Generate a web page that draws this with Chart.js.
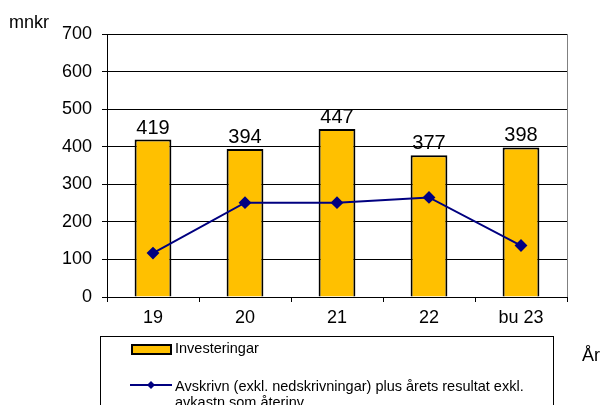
<!DOCTYPE html>
<html>
<head>
<meta charset="utf-8">
<script src="https://cdn.jsdelivr.net/npm/chart.js@4"></script>
<style>
  body { margin: 0; background: #fff; overflow: hidden; font-family: "Liberation Sans", Arial, sans-serif; }
  #wrap { position: relative; width: 601px; height: 405px; }
  canvas { position: absolute; left: 0; top: 0; }
  .lbl { position: absolute; font-size: 18px; color: #000; line-height: 20px; }
  #legend { position: absolute; left: 100px; top: 336px; width: 452px; height: 90px; border: 1px solid #000; background: #fff; font-size: 14.5px; }
  .item { position: absolute; left: 74px; white-space: nowrap; line-height: 16px; }
</style>
</head>
<body>
<div id="wrap">
  <canvas id="chart" width="601" height="405"></canvas>
  <div class="lbl" style="left:9px;top:12px;">mnkr</div>
  <div class="lbl" style="left:582px;top:345px;">År</div>
  <div id="legend">
    <div style="position:absolute;left:30px;top:7px;width:37px;height:7px;background:#FFC000;border:2px solid #000;"></div>
    <div class="item" style="top:3px;">Investeringar</div>
    <svg style="position:absolute;left:29px;top:43px;" width="42" height="10">
      <line x1="0" y1="5" x2="42" y2="5" stroke="#000080" stroke-width="2"/>
      <polygon points="21,1 25,5 21,9 17,5" fill="#000080"/>
    </svg>
    <div class="item" style="top:41px;">Avskrivn (exkl. nedskrivningar) plus årets resultat exkl.<br>avkastn som återinv</div>
  </div>
</div>
<script>
'use strict';

let years = ['19', '20', '21', '22', 'bu 23'];
let investeringar = [419, 394, 447, 377, 398];
let avskrivn = [117, 251, 251, 265, 137];
let yTicks = [0, 100, 200, 300, 400, 500, 600, 700];

let canvasElem = document.getElementById('chart');

const barLabels = {
  id: 'barLabels',
  afterDatasetsDraw(chart) {
    const ctx = chart.ctx;
    const meta = chart.getDatasetMeta(0);
    ctx.save();
    ctx.font = '20px "Liberation Sans", Arial, sans-serif';
    ctx.fillStyle = '#000';
    ctx.textAlign = 'center';
    ctx.textBaseline = 'alphabetic';
    meta.data.forEach(function (bar, i) {
      ctx.fillText(investeringar[i], bar.x, bar.y - 6);
    });
    ctx.restore();
  },
  afterDraw(chart) {
    // grey frame line on the right of the plot
    const a = chart.chartArea;
    const ctx = chart.ctx;
    ctx.save();
    ctx.strokeStyle = '#808080';
    ctx.lineWidth = 1;
    ctx.beginPath();
    ctx.moveTo(a.right + 0.5, a.top);
    ctx.lineTo(a.right + 0.5, a.bottom);
    ctx.stroke();
    ctx.restore();
  }
};

function renderChart() {
  const data = {
    labels: years,
    datasets: [
      {
        type: 'bar',
        label: 'Investeringar',
        data: investeringar,
        backgroundColor: '#FFC000',
        borderColor: '#000',
        borderWidth: 2,
        barPercentage: 0.4,
        categoryPercentage: 1,
        order: 2
      },
      {
        type: 'line',
        label: 'Avskrivn (exkl. nedskrivningar) plus årets resultat exkl. avkastn som återinv',
        data: avskrivn,
        borderColor: '#000080',
        backgroundColor: '#000080',
        borderWidth: 2,
        pointStyle: 'rectRot',
        pointRadius: 5,
        tension: 0,
        order: 1
      }
    ]
  };
  let config = {
    data: data,
    plugins: [barLabels],
    options: {
      responsive: false,
      animation: false,
      layout: { padding: { top: 34, right: 34, left: 0, bottom: 0 } },
      plugins: { legend: { display: false }, tooltip: { enabled: false } },
      scales: {
        x: {
          offset: true,
          grid: { offset: true, drawOnChartArea: false, drawTicks: true, tickLength: 5, color: '#000' },
          border: { color: '#000', width: 1 },
          ticks: { color: '#000', padding: 5, font: { family: '"Liberation Sans", Arial, sans-serif', size: 18 } },
          afterFit(scale) { scale.height = 108; }
        },
        y: {
          min: 0,
          max: 700,
          afterBuildTicks(scale) { scale.ticks = yTicks.map(v => ({ value: v })); },
          grid: { color: '#000', tickLength: 5 },
          border: { color: '#000', width: 1 },
          ticks: { color: '#000', padding: 10, font: { family: '"Liberation Sans", Arial, sans-serif', size: 18 } },
          afterFit(scale) { scale.width = 107; }
        }
      }
    }
  };
  let myChart = new Chart(canvasElem, config);
}

renderChart();
</script>
</body>
</html>
